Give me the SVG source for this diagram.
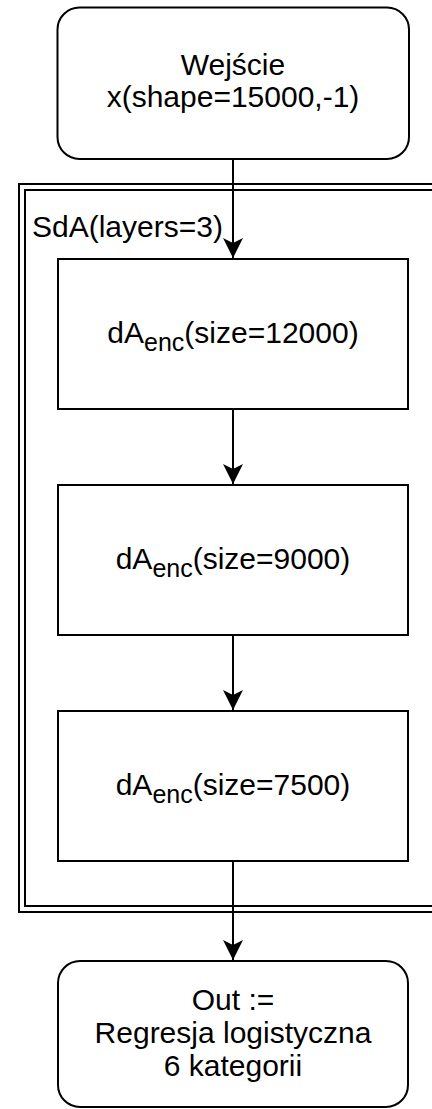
<svg xmlns="http://www.w3.org/2000/svg" width="432" height="1109" viewBox="0 0 432 1109">
<style>
.s{fill:#fff;stroke:#000;stroke-width:2}
.t{font-family:"Liberation Sans",Arial,sans-serif;font-size:30px;fill:#000;text-anchor:middle}
.sub{font-size:25px}
.c{stroke:#000;stroke-width:2;fill:none}
</style>
<defs>
<marker id="a" markerUnits="userSpaceOnUse" markerWidth="22" markerHeight="22" refX="20" refY="10" orient="auto" viewBox="0 0 22 20">
<path d="M20,10 L0,0 L5,10 L0,20 Z" fill="#000"/>
</marker>
</defs>
<g id="sda">
<rect class="s" x="19" y="184" width="440" height="728"/>
<rect class="s" x="25" y="190" width="428" height="716"/>
<text x="32" y="237" style="font-family:'Liberation Sans',Arial,sans-serif;font-size:30px">SdA(layers=3)</text>
</g>
<g id="connectors">
<line class="c" x1="233" y1="159" x2="233" y2="258" marker-end="url(#a)"/>
<line class="c" x1="233" y1="409" x2="233" y2="484" marker-end="url(#a)"/>
<line class="c" x1="233" y1="635" x2="233" y2="710" marker-end="url(#a)"/>
<line class="c" x1="233" y1="861" x2="233" y2="960" marker-end="url(#a)"/>
</g>
<g id="input">
<rect class="s" x="57.5" y="7.5" width="351.5" height="151.5" rx="22" ry="22"/>
<text class="t" x="233" y="75">Wejście</text>
<text class="t" x="233" y="107">x(shape=15000,-1)</text>
</g>
<g id="enc1">
<rect class="s" x="58" y="259" width="350" height="150"/>
<text class="t" x="233" y="343">dA<tspan class="sub" dy="8">enc</tspan><tspan dy="-8">(size=12000)</tspan></text>
</g>
<g id="enc2">
<rect class="s" x="58" y="485" width="350" height="150"/>
<text class="t" x="233" y="569">dA<tspan class="sub" dy="8">enc</tspan><tspan dy="-8">(size=9000)</tspan></text>
</g>
<g id="enc3">
<rect class="s" x="58" y="711" width="350" height="150"/>
<text class="t" x="233" y="795">dA<tspan class="sub" dy="8">enc</tspan><tspan dy="-8">(size=7500)</tspan></text>
</g>
<g id="out">
<rect class="s" x="58" y="961" width="350" height="146" rx="22" ry="22"/>
<text class="t" x="233" y="1010">Out :=</text>
<text class="t" x="233" y="1043">Regresja logistyczna</text>
<text class="t" x="233" y="1076">6 kategorii</text>
</g>
</svg>
